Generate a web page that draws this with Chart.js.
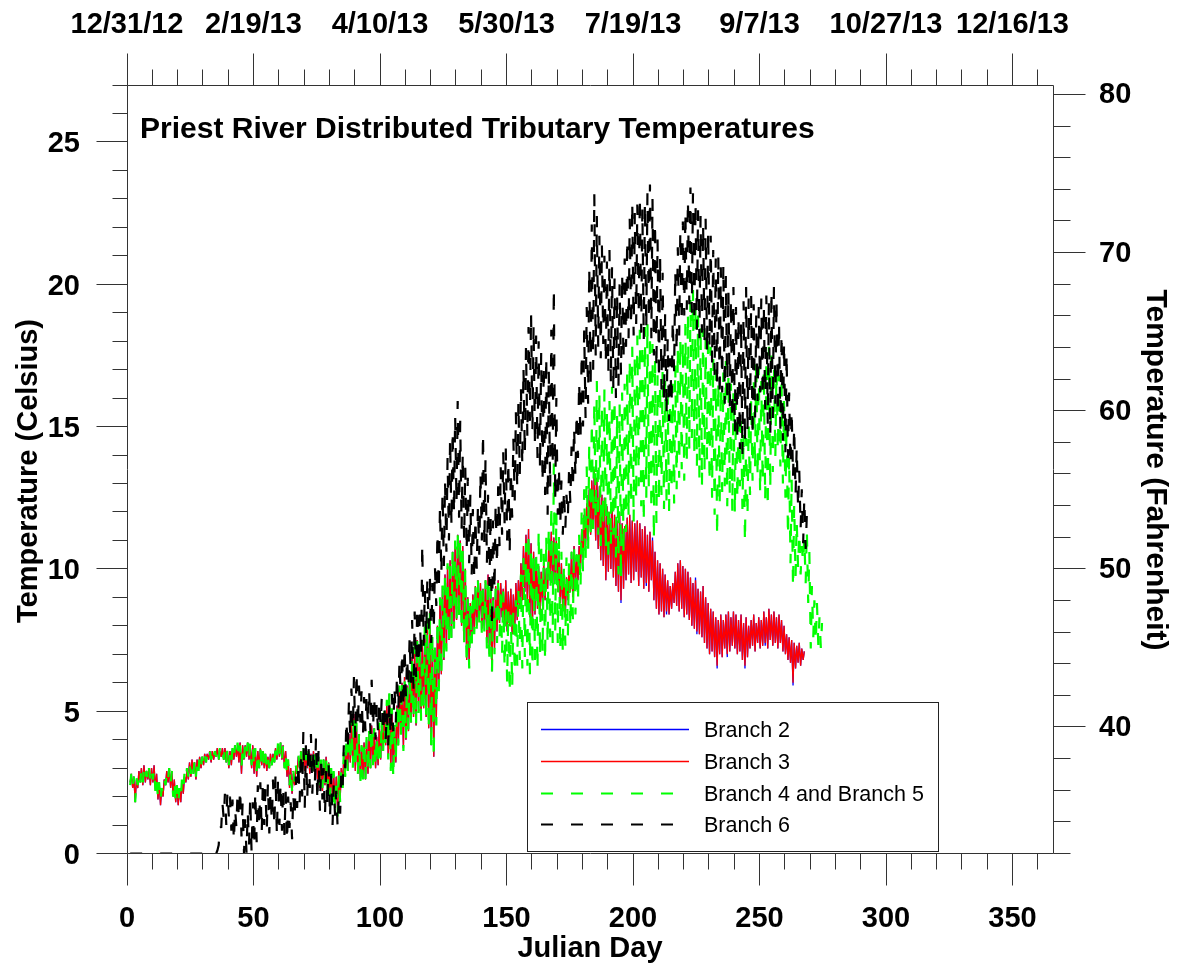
<!DOCTYPE html>
<html>
<head>
<meta charset="utf-8">
<title>Priest River Distributed Tributary Temperatures</title>
<script src="https://cdn.jsdelivr.net/npm/chart.js@4.4.1/dist/chart.umd.min.js"></script>
<style>
  html, body { margin: 0; padding: 0; background: #fff; }
  canvas { display: block; }
</style>
</head>
<body>
<canvas id="chart" width="1177" height="967"></canvas>
<script>
// daily low / high temperatures (deg C), first value is Julian day 1
const startDay = 1;

const branch2Lo = [
  2.5,2.3,1.8,2.3,2.5,2.4,2.5,2.6,2.4,2.5, 2.2,1.9,1.7,2.0,2.4,2.5,2.3,2.0,1.8,1.7,
  1.8,2.1,2.5,2.6,2.7,2.8,2.6,2.9,3.0,3.1, 3.2,3.3,3.2,3.3,3.4,3.3,3.4,3.3,3.2,3.0,
  3.1,3.3,3.4,3.2,2.8,3.3,3.4,3.3,3.0,2.8, 2.7,3.0,3.1,3.0,2.9,3.0,3.1,3.2,3.3,3.4,
  3.3,3.0,2.7,2.3,2.1,2.4,2.8,3.0,3.1,2.9, 3.0,2.8,2.9,3.0,2.6,2.3,2.2,2.4,2.1,2.0,
  1.8,1.6,1.5,1.9,2.4,2.7,2.9,3.2,3.1,2.9, 2.8,2.6,2.7,2.6,2.8,3.0,3.2,3.0,3.1,3.3,
  3.6,3.8,3.4,3.0,2.8,3.2,3.8,4.2,3.7,4.0, 4.3,4.6,4.8,4.5,5.0,4.7,5.1,4.8,4.4,3.8,
  3.4,4.6,5.8,6.3,6.8,7.2,7.5,7.6,8.0,8.2, 8.4,8.0,7.5,6.8,6.7,7.4,7.8,8.0,8.3,7.9,
  8.0,7.4,7.0,6.4,7.2,7.8,8.1,8.3,8.0,7.8, 8.0,7.7,7.9,8.2,8.6,8.9,9.2,8.8,8.3,8.0,
  8.4,8.6,8.4,8.7,8.9,9.3,9.6,9.4,9.6,9.2, 8.8,8.5,8.4,8.9,9.2,9.0,9.3,9.6,10.0,10.4,
  10.8,11.0,11.2,11.4,11.0,10.7,10.3,10.1,9.6,9.9, 10.0,9.7,9.4,9.2,8.8,9.3,9.6,9.8,9.5,9.6,
  9.9,9.4,9.7,9.3,9.4,9.2,9.6,8.9,8.6,8.4, 8.5,8.3,8.4,8.4,8.6,8.8,8.7,8.5,8.6,8.3,
  8.4,8.2,8.0,7.9,7.7,7.7,7.6,7.4,7.2,7.0, 7.1,6.9,6.5,7.0,6.9,7.2,6.9,7.1,7.3,7.2,
  7.0,7.1,6.8,6.5,6.9,7.2,7.3,7.1,7.4,7.2, 7.3,7.3,7.2,7.5,7.3,7.4,7.2,7.4,7.1,7.0,
  6.8,6.7,5.9,6.5,6.7,6.6,6.8
];
const branch2Hi = [
  2.8,2.7,2.6,2.9,3.0,3.1,2.9,3.0,3.0,3.1, 2.8,2.5,2.3,2.6,2.9,3.0,2.9,2.6,2.4,2.3,
  2.5,2.7,2.9,3.2,3.3,3.2,3.3,3.4,3.4,3.5, 3.5,3.6,3.6,3.6,3.7,3.6,3.7,3.7,3.6,3.6,
  3.7,3.8,3.8,3.9,3.8,3.8,3.9,3.8,3.8,3.7, 3.6,3.7,3.6,3.5,3.4,3.5,3.5,3.7,3.8,3.9,
  3.8,3.6,3.3,3.0,2.8,3.0,3.4,3.6,3.6,3.5, 3.6,3.5,3.6,3.5,3.4,3.2,3.3,3.4,3.2,3.0,
  2.8,2.7,2.9,3.0,3.5,3.8,4.2,4.6,4.9,4.5, 4.1,3.8,3.9,4.0,4.2,4.5,4.4,4.1,4.5,4.7,
  4.9,5.3,5.6,5.0,4.5,5.2,5.8,6.0,6.2,5.9, 6.4,6.9,7.2,7.5,7.3,7.4,7.9,8.2,8.5,7.6,
  7.2,8.0,8.9,9.4,9.8,10.1,10.3,10.6,10.9,11.2, 11.0,10.8,10.0,9.0,8.8,9.1,9.4,9.6,9.5,9.3,
  9.6,9.8,9.5,9.0,9.4,9.6,9.5,9.3,9.6,9.2, 9.3,9.1,9.5,9.6,10.2,10.8,11.2,11.4,10.9,10.6,
  10.4,10.1,9.9,10.2,10.0,10.8,11.3,11.1,11.0,10.6, 10.2,9.8,9.7,10.1,10.6,10.8,10.5,10.8,11.4,11.9,
  12.3,12.8,13.1,13.4,13.2,12.9,12.6,12.5,12.2,12.0, 12.3,11.9,11.7,12.0,11.6,11.5,11.8,11.9,11.7,11.6,
  11.7,11.6,11.4,11.5,11.2,11.3,11.1,10.6,10.3,10.2, 10.0,9.8,9.6,9.4,9.5,9.9,10.2,10.3,10.1,10.0,
  9.9,9.7,9.5,9.7,9.3,9.2,9.4,9.0,8.8,8.6, 8.5,8.3,8.2,8.4,8.2,8.4,8.5,8.3,8.5,8.4,
  8.2,8.4,8.1,8.3,8.0,8.2,8.4,8.1,8.3,8.2, 8.5,8.3,8.6,8.4,8.5,8.3,8.4,8.2,8.0,7.7,
  7.6,7.5,7.4,7.3,7.4,7.2,7.1
];

const branch3Lo = [
  2.5,2.3,1.8,2.3,2.5,2.4,2.5,2.6,2.4,2.5, 2.2,1.9,1.7,2.0,2.4,2.5,2.3,2.0,1.8,1.7,
  1.8,2.1,2.5,2.6,2.7,2.8,2.6,2.9,3.0,3.1, 3.2,3.3,3.2,3.3,3.4,3.3,3.4,3.3,3.2,3.0,
  3.1,3.3,3.4,3.2,2.8,3.3,3.4,3.3,3.0,2.8, 2.7,3.0,3.1,3.0,2.9,3.0,3.1,3.2,3.3,3.4,
  3.3,3.0,2.7,2.3,2.1,2.4,2.8,3.0,3.1,2.9, 3.0,2.8,2.9,3.0,2.6,2.3,2.2,2.4,2.1,2.0,
  1.8,1.6,1.5,1.9,2.4,2.7,2.9,3.2,3.1,2.9, 2.8,2.6,2.7,2.6,2.8,3.0,3.2,3.0,3.1,3.3,
  3.6,3.8,3.4,3.0,2.8,3.2,3.8,4.2,3.7,4.0, 4.3,4.6,4.8,4.5,5.0,4.7,5.1,4.8,4.4,3.8,
  3.4,4.6,5.8,6.3,6.8,7.2,7.5,7.6,8.0,8.2, 8.4,8.0,7.5,6.8,6.7,7.4,7.8,8.0,8.3,7.9,
  8.0,7.4,7.0,6.4,7.2,7.8,8.1,8.3,8.0,7.8, 8.0,7.7,7.9,8.2,8.6,8.9,9.2,8.8,8.3,8.0,
  8.4,8.6,8.4,8.7,8.9,9.3,9.6,9.4,9.6,9.2, 8.8,8.5,8.4,8.9,9.2,9.0,9.3,9.6,10.0,10.4,
  10.8,11.0,11.2,11.4,11.0,10.7,10.3,10.1,9.6,9.9, 10.0,9.7,9.4,9.2,8.9,9.3,9.6,9.8,9.5,9.6,
  9.9,9.4,9.7,9.3,9.5,9.2,9.6,8.9,8.6,8.4, 8.5,8.3,8.5,8.4,8.6,8.8,8.7,8.5,8.6,8.3,
  8.4,8.2,8.0,7.9,7.8,7.7,7.6,7.4,7.2,7.0, 7.1,6.9,6.6,7.0,6.9,7.2,7.0,7.1,7.3,7.2,
  7.0,7.1,6.8,6.6,6.9,7.2,7.3,7.1,7.4,7.2, 7.3,7.4,7.2,7.5,7.3,7.4,7.2,7.4,7.1,7.0,
  6.8,6.7,6.0,6.5,6.7,6.6,6.8
];
const branch3Hi = [
  2.8,2.7,2.6,2.9,3.0,3.1,2.9,3.0,3.0,3.1, 2.8,2.5,2.3,2.6,2.9,3.0,2.9,2.6,2.4,2.3,
  2.5,2.7,2.9,3.2,3.3,3.2,3.3,3.4,3.4,3.5, 3.5,3.6,3.6,3.6,3.7,3.6,3.7,3.7,3.6,3.6,
  3.7,3.8,3.8,3.9,3.8,3.8,3.9,3.8,3.8,3.7, 3.6,3.7,3.6,3.5,3.4,3.5,3.5,3.7,3.8,3.9,
  3.8,3.6,3.3,3.0,2.8,3.0,3.4,3.6,3.6,3.5, 3.6,3.5,3.6,3.5,3.4,3.2,3.3,3.4,3.2,3.0,
  2.8,2.7,2.9,3.0,3.5,3.8,4.2,4.6,4.9,4.5, 4.1,3.8,3.9,4.0,4.2,4.5,4.4,4.1,4.5,4.7,
  4.9,5.3,5.6,5.0,4.5,5.2,5.8,6.0,6.2,5.9, 6.4,6.9,7.2,7.5,7.3,7.4,7.9,8.2,8.5,7.6,
  7.2,8.0,8.9,9.4,9.8,10.1,10.3,10.6,10.9,11.2, 11.0,10.8,10.0,9.0,8.8,9.1,9.4,9.6,9.5,9.3,
  9.6,9.8,9.5,9.0,9.4,9.6,9.5,9.3,9.6,9.2, 9.3,9.1,9.5,9.6,10.2,10.8,11.2,11.4,10.9,10.6,
  10.4,10.1,9.9,10.2,10.0,10.8,11.3,11.1,11.0,10.6, 10.2,9.8,9.7,10.1,10.6,10.8,10.5,10.8,11.4,11.9,
  12.3,12.8,13.1,13.5,13.2,12.9,12.6,12.5,12.2,12.0, 12.3,11.9,11.7,12.0,11.6,11.5,11.8,11.9,11.7,11.6,
  11.7,11.6,11.4,11.5,11.2,11.3,11.0,10.6,10.3,10.2, 10.0,9.8,9.6,9.4,9.5,9.9,10.2,10.3,10.1,10.0,
  9.9,9.7,9.5,9.6,9.3,9.2,9.4,9.0,8.8,8.6, 8.5,8.3,8.2,8.4,8.2,8.4,8.5,8.3,8.5,8.4,
  8.2,8.4,8.1,8.3,8.0,8.2,8.4,8.1,8.3,8.2, 8.5,8.3,8.6,8.4,8.5,8.3,8.4,8.2,8.0,7.7,
  7.6,7.5,7.4,7.3,7.4,7.2,7.1
];

const branch45Lo = [
  2.4,2.3,1.8,2.4,2.5,2.5,2.6,2.5,2.5,2.6, 2.2,1.9,1.8,2.1,2.4,2.6,2.4,2.0,1.8,1.7,
  1.9,2.2,2.5,2.7,2.8,2.8,2.7,2.9,3.0,3.1, 3.2,3.3,3.3,3.3,3.4,3.3,3.4,3.3,3.2,3.1,
  3.2,3.3,3.4,3.3,3.0,3.3,3.4,3.3,3.1,3.0, 2.9,3.0,3.1,3.0,3.0,3.0,3.1,3.2,3.3,3.4,
  3.3,3.0,2.7,2.4,2.2,2.5,2.8,3.0,3.1,3.0, 3.0,2.9,2.9,3.0,2.7,2.4,2.3,2.4,2.2,2.0,
  1.8,1.5,1.3,1.8,2.3,2.7,2.9,3.2,3.0,2.9, 2.8,2.5,2.6,2.6,2.8,3.0,3.1,3.0,3.1,3.3,
  3.6,3.7,3.3,2.9,2.6,3.2,3.8,4.1,3.6,4.0, 4.3,4.6,4.7,4.5,4.9,4.6,5.0,4.7,4.3,3.6,
  3.3,4.5,5.7,6.2,6.7,7.1,7.4,7.5,7.9,8.1, 8.2,7.8,7.3,6.6,6.5,7.3,7.7,7.9,8.1,7.7,
  7.8,7.2,6.8,6.3,7.0,7.4,7.6,7.0,6.5,6.0, 5.6,5.8,6.3,6.6,6.8,6.5,6.9,6.6,6.3,6.5,
  6.8,6.4,6.9,7.0,6.7,7.3,7.6,7.4,7.8,7.4, 7.1,7.0,7.3,7.6,7.9,8.2,8.4,8.8,9.3,9.8,
  10.2,10.6,11.0,11.4,11.8,11.2,10.8,11.5,10.6,10.2, 10.8,11.2,10.4,9.8,9.6,10.5,11.3,11.8,12.2,11.6,
  12.4,12.9,12.2,11.6,12.5,12.8,12.0,11.0,11.6,12.3, 12.6,12.1,12.4,12.0,12.7,12.3,12.8,13.2,13.5,13.1,
  13.8,14.2,14.6,14.0,13.6,13.2,12.9,13.4,13.8,13.0, 12.5,11.9,11.1,12.3,12.7,12.9,12.2,12.6,12.0,11.9,
  12.4,12.9,12.1,10.9,11.8,12.6,13.1,13.5,13.2,12.6, 13.0,12.4,12.1,12.8,13.4,13.9,14.1,13.6,13.0,12.5,
  11.1,10.2,9.3,9.7,10.0,9.8,10.2,9.5,8.8,7.2, 7.6,7.4,7.3,7.2
];
const branch45Hi = [
  2.8,2.7,2.7,2.9,3.0,3.0,2.9,3.0,2.9,3.0, 2.7,2.5,2.3,2.6,2.9,3.0,2.9,2.6,2.4,2.3,
  2.6,2.8,3.0,3.2,3.2,3.3,3.3,3.4,3.4,3.5, 3.5,3.6,3.6,3.6,3.7,3.7,3.6,3.7,3.7,3.6,
  3.7,3.8,3.9,3.8,3.7,3.8,3.9,3.9,3.8,3.7, 3.6,3.7,3.6,3.5,3.4,3.5,3.6,3.7,3.9,3.9,
  3.8,3.6,3.3,3.0,2.9,3.1,3.5,3.6,3.7,3.5, 3.6,3.5,3.7,3.5,3.4,3.3,3.3,3.4,3.2,3.0,
  2.9,2.7,2.8,3.0,3.6,3.9,4.3,4.8,4.9,4.6, 4.2,3.8,4.0,4.1,4.3,4.5,4.4,4.2,4.6,4.8,
  5.0,5.4,5.7,5.1,4.6,5.3,5.9,6.1,6.3,6.0, 6.5,7.0,7.3,7.6,7.4,7.5,8.0,8.3,8.6,7.7,
  7.3,8.2,9.0,9.5,9.9,10.2,10.4,10.7,11.0,11.3, 11.1,10.8,10.0,9.0,8.8,9.2,9.5,9.6,9.5,9.3,
  9.6,9.7,9.4,8.9,9.3,9.5,9.4,9.2,8.8,8.6, 8.4,8.6,8.9,9.3,9.8,10.4,10.9,11.3,10.8,10.5,
  10.7,11.4,11.0,10.6,11.2,11.5,12.3,13.7,12.0,11.2, 10.6,10.2,10.4,10.2,10.6,10.8,10.5,11.2,12.0,12.8,
  13.6,14.4,15.2,15.9,16.6,16.2,15.8,16.3,15.6,15.9, 16.4,16.0,15.5,15.8,16.2,16.5,17.0,17.4,17.8,17.6,
  18.2,18.4,18.0,18.5,18.7,18.3,17.9,17.4,16.8,16.5, 17.0,16.6,16.2,15.9,16.5,17.2,17.8,18.1,18.0,18.6,
  19.0,19.5,19.8,19.3,18.9,18.6,18.4,18.1,18.3,17.8, 17.4,17.0,16.6,16.4,16.9,17.3,16.8,16.5,16.2,15.9,
  15.6,15.2,14.8,14.6,15.1,16.0,16.8,17.4,17.1,16.6, 17.0,17.4,17.8,17.5,17.2,17.0,16.8,16.5,15.9,15.2,
  14.0,13.2,12.3,11.7,11.3,10.8,11.1,11.4,10.6,9.4, 8.9,8.8,8.3,8.1
];

const branch6Lo = [
  0,0,0,0,0,0,0,0,0,0, 0,0,0,0,0,0,0,0,0,0,
  0,0,0,0,0,0,0,0,0,0, 0,0,0,0,0,0.3,0.9,1.2,1.0,1.3,
  0.8,0.4,0.9,1.2,0.6,0.0,0.0,0.3,0.0,0.2, 0.4,0.9,0.7,1.0,0.8,0.7,1.1,0.9,0.6,1.0,
  0.8,0.6,0.4,0.9,0.5,1.2,1.6,1.8,2.0,1.6, 1.9,2.3,2.1,2.4,1.8,1.5,1.9,1.3,1.6,1.2,
  1.0,1.3,0.9,1.4,2.4,3.0,3.6,4.1,4.3,4.0, 4.4,4.6,4.1,4.3,4.5,4.2,4.4,4.0,4.2,4.5,
  4.2,4.0,3.8,4.1,4.3,4.6,5.0,5.3,5.1,5.5, 5.8,6.0,5.7,6.2,6.6,6.9,7.3,7.6,7.9,7.4,
  7.8,8.7,9.2,9.8,10.1,10.6,11.0,11.5,11.9,12.3, 11.8,11.4,11.0,10.6,10.2,9.8,9.6,10.0,10.5,11.0,
  10.8,10.2,9.4,7.9,9.2,10.1,10.8,11.2,11.6,11.0, 10.5,11.8,12.4,12.8,13.3,13.6,14.0,14.6,15.2,14.8,
  14.3,13.9,13.5,13.0,12.6,11.9,12.8,13.6,12.4,11.9, 11.5,11.2,11.4,11.8,12.3,12.8,13.2,13.9,14.5,15.0,
  15.3,15.8,16.4,17.0,17.5,17.8,17.4,17.9,17.2,16.9, 16.5,16.2,16.0,16.4,16.8,17.3,17.8,18.1,18.5,18.2,
  18.6,18.9,18.3,18.0,18.4,18.7,18.1,17.5,17.0,16.6, 16.3,15.9,15.4,15.2,15.8,16.9,17.6,18.2,18.6,18.9,
  19.1,19.3,19.0,18.6,18.4,18.1,18.3,17.9,17.6,17.8, 17.2,16.8,16.4,16.0,16.2,15.8,16.1,15.6,15.2,14.8,
  14.5,14.2,14.0,14.4,14.8,15.0,14.6,15.3,15.9,16.2, 16.0,15.6,15.1,14.7,15.3,15.8,15.4,14.9,14.5,14.1,
  13.9,13.6,13.2,12.6,12.1,11.4,10.9,10.7
];
const branch6Hi = [
  0,0,0,0,0,0,0,0,0,0, 0,0,0,0,0,0,0,0,0,0,
  0,0,0,0,0,0,0,0,0,0, 0,0,0.1,0,0.1,1.0,1.8,2.1,2.2,2.0,
  1.9,1.6,2.2,2.3,1.8,1.2,1.5,2.0,1.8,2.2, 2.4,2.5,2.6,2.3,2.5,2.2,2.6,2.8,2.7,2.5,
  2.4,2.2,2.0,1.8,2.1,2.7,3.2,3.6,4.3,3.8, 3.9,4.2,3.7,4.1,3.6,3.2,3.0,2.9,3.1,2.8,
  2.4,2.2,2.0,2.9,3.8,4.7,5.3,5.8,6.2,6.4, 5.9,5.7,5.5,5.6,5.8,6.1,5.5,5.3,5.4,5.5,
  5.3,5.0,5.3,5.6,5.9,6.3,6.8,7.1,7.3,6.9, 7.6,8.2,8.5,8.7,8.4,10.9,9.3,9.6,9.8,9.5,
  10.1,11.3,12.2,12.7,13.1,13.9,14.6,14.9,15.4,15.9, 15.2,14.1,13.6,13.2,12.6,12.1,11.8,12.2,13.4,14.8,
  13.9,12.6,12.0,11.7,12.3,12.9,13.6,14.1,14.3,13.8, 13.5,14.6,15.5,15.9,16.4,17.1,17.8,18.5,19.0,18.6,
  18.2,18.0,17.6,17.2,17.5,17.0,18.4,19.9,16.0,13.6, 13.1,12.8,12.6,13.4,14.3,15.0,15.5,16.6,17.6,18.4,
  19.2,20.6,22.1,23.2,22.4,21.7,21.4,21.0,20.8,21.2, 20.6,20.2,19.7,20.0,20.4,20.9,21.6,22.3,22.9,22.5,
  22.8,23.1,22.7,22.9,23.2,23.5,23.0,22.2,21.6,21.0, 20.4,19.0,18.1,17.4,18.8,20.5,21.3,21.9,22.2,22.6,
  23.0,23.4,23.2,22.9,22.6,22.4,22.1,22.3,21.9,21.7, 21.2,20.9,21.0,20.6,20.7,20.3,19.8,19.5,19.9,19.2,
  18.9,18.7,19.4,19.9,19.5,19.6,19.3,18.9,19.2,19.5, 19.3,19.6,19.4,19.8,19.9,19.5,18.7,18.3,18.0,17.6,
  16.2,15.6,15.0,14.3,13.5,12.8,12.5,11.9
];

// axis ticks and labels
const dayTicks = [0, 50, 100, 150, 200, 250, 300, 350];
const dateLabels = ['12/31/12', '2/19/13', '4/10/13', '5/30/13', '7/19/13', '9/7/13', '10/27/13', '12/16/13'];
const celsiusTicks = [0, 5, 10, 15, 20, 25];
const fahrenheitTicks = [40, 50, 60, 70, 80];

const FONT = '"Liberation Sans", Arial, Helvetica, sans-serif';

// low in the early morning, high mid afternoon
function dailyCycle(lo, hi){
  const pts = [];
  lo.forEach((v, i) => {
    pts.push({x: startDay + i + 0.25, y: v});
    pts.push({x: startDay + i + 0.7, y: hi[i]});
  });
  return pts;
}

const crisp = v => Math.round(v - 0.5) + 0.5;

const framePlugin = {
  id: 'frame',
  afterDraw(chart){
    const {ctx, chartArea: a} = chart;
    const xs = chart.scales.x, ys = chart.scales.y, yf = chart.scales.yF;
    const L = crisp(a.left), R = crisp(a.right), T = crisp(a.top), B = crisp(a.bottom);
    ctx.save();

    // box + tick marks
    ctx.strokeStyle = '#333';
    ctx.lineWidth = 1;
    ctx.beginPath();
    ctx.rect(L, T, R - L, B - T);
    for(let d = 0; d <= 360; d += 10){
      const px = crisp(xs.getPixelForValue(d));
      const len = d % 50 === 0 ? 32 : 16;
      ctx.moveTo(px, B); ctx.lineTo(px, B + len);
      ctx.moveTo(px, T); ctx.lineTo(px, T - len);
    }
    for(let c = 0; c <= 27; c++){
      const py = crisp(ys.getPixelForValue(c));
      const len = c % 5 === 0 ? 31 : 15;
      ctx.moveTo(L - len, py); ctx.lineTo(L, py);
    }
    for(let f = 32; f <= 80; f += 2){
      const py = crisp(yf.getPixelForValue(f));
      const len = f % 10 === 0 ? 32 : 17;
      ctx.moveTo(R, py); ctx.lineTo(R + len, py);
    }
    ctx.stroke();

    // tick labels
    ctx.fillStyle = '#000';
    ctx.font = 'bold 29px ' + FONT;
    ctx.textBaseline = 'alphabetic';
    ctx.textAlign = 'center';
    dayTicks.forEach((d, i) => {
      const px = xs.getPixelForValue(d);
      ctx.fillText(String(d), px, 927);
      ctx.fillText(dateLabels[i], px, 33);
    });
    ctx.textAlign = 'right';
    celsiusTicks.forEach(c => ctx.fillText(String(c), 80, ys.getPixelForValue(c) + 10.4));
    ctx.textAlign = 'left';
    fahrenheitTicks.forEach(f => ctx.fillText(String(f), 1099, yf.getPixelForValue(f) + 9));

    // titles
    ctx.font = 'bold 30px ' + FONT;
    ctx.fillText('Priest River Distributed Tributary Temperatures', 140, 138);
    ctx.font = 'bold 29px ' + FONT;
    ctx.textAlign = 'center';
    ctx.fillText('Julian Day', 590, 957);
    ctx.save();
    ctx.translate(37, 471);
    ctx.rotate(-Math.PI / 2);
    ctx.fillText('Temperature (Celsius)', 0, 0);
    ctx.restore();
    ctx.save();
    ctx.translate(1147, 470);
    ctx.rotate(Math.PI / 2);
    ctx.font = 'bold 30px ' + FONT;
    ctx.fillText('Temperature (Fahrenheit)', 0, 0);
    ctx.restore();

    // legend
    ctx.fillStyle = '#fff';
    ctx.fillRect(527, 702, 411, 150);
    ctx.strokeStyle = '#222';
    ctx.strokeRect(527.5, 702.5, 411, 149);
    const rows = [729, 761, 793, 824];
    ctx.font = '21.5px ' + FONT;
    ctx.textAlign = 'left';
    chart.data.datasets.forEach((ds, i) => {
      const ry = rows[i] + 0.5;
      ctx.beginPath();
      ctx.strokeStyle = ds.borderColor;
      ctx.lineWidth = ds.borderDash ? 2 : 1.3;
      ctx.setLineDash(ds.borderDash || []);
      ctx.moveTo(541, ry); ctx.lineTo(689, ry);
      ctx.stroke();
      ctx.setLineDash([]);
      ctx.fillStyle = '#000';
      ctx.fillText(ds.label, 704, rows[i] + 7.5);
    });
    ctx.restore();
  }
};

new Chart(document.getElementById('chart'), {
  type: 'line',
  data: {
    datasets: [
      {label: 'Branch 2', data: dailyCycle(branch2Lo, branch2Hi), borderColor: '#0000ff', borderWidth: 1.3, order: 4},
      {label: 'Branch 3', data: dailyCycle(branch3Lo, branch3Hi), borderColor: '#ff0000', borderWidth: 1.3, order: 3},
      {label: 'Branch 4 and Branch 5', data: dailyCycle(branch45Lo, branch45Hi), borderColor: '#00ff00', borderWidth: 2.2, borderDash: [12, 18], order: 2},
      {label: 'Branch 6', data: dailyCycle(branch6Lo, branch6Hi), borderColor: '#000000', borderWidth: 2.2, borderDash: [12, 18], order: 1}
    ]
  },
  options: {
    responsive: false,
    animation: false,
    devicePixelRatio: 1,
    events: [],
    layout: {padding: {left: 127, right: 124, top: 85, bottom: 113.5}},
    elements: {
      point: {radius: 0},
      line: {tension: 0, fill: false, borderJoinStyle: 'bevel'}
    },
    plugins: {legend: {display: false}, tooltip: {enabled: false}},
    scales: {
      x: {type: 'linear', min: 0, max: 366, display: false},
      y: {type: 'linear', min: 0, max: 27, display: false},
      yF: {type: 'linear', position: 'right', min: 32, max: 80.6, display: false}
    }
  },
  plugins: [framePlugin]
});
</script>
</body>
</html>
